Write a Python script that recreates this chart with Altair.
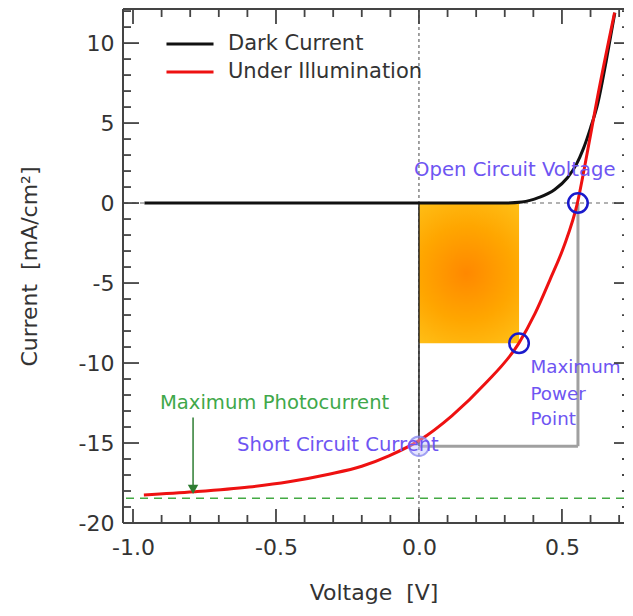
import altair as alt
import pandas as pd

# ---------------- data ----------------
series_names = ["Dark Current", "Under Illumination"]

dark_v = [-0.96, 0.0, 0.30, 0.36, 0.42, 0.475, 0.52, 0.55, 0.575, 0.60, 0.625, 0.655, 0.685]
dark_j = [0.0, 0.0, 0.0, 0.06, 0.35, 0.85, 1.6, 2.4, 3.4, 4.7, 6.2, 8.9, 11.9]

light_v = [-0.962, -0.787, -0.594, -0.455, -0.315, -0.2, -0.105, 0.0, 0.115, 0.231, 0.349,
           0.406, 0.458, 0.507, 0.554, 0.587, 0.622, 0.684]
light_j = [-18.25, -18.05, -17.75, -17.42, -16.95, -16.45, -15.8, -14.85, -13.3, -11.3, -8.77,
           -6.9, -4.8, -2.7, 0.0, 3.0, 6.4, 11.9]

v_oc = 0.556          # open circuit voltage
j_sc = -15.2          # short circuit current
v_mp = 0.35           # maximum power point
j_mp = -8.77
j_ph = -18.45         # maximum photocurrent level
arrow_v = -0.79
arrow_top = -13.4
arrow_head = -17.9

x_major = [-1.0, -0.5, 0.0, 0.5]
x_minor = [-0.9, -0.8, -0.7, -0.6, -0.4, -0.3, -0.2, -0.1, 0.1, 0.2, 0.3, 0.4, 0.6, 0.7]
y_major = [-20, -15, -10, -5, 0, 5, 10]
y_minor = [-19, -18, -17, -16, -14, -13, -12, -11, -9, -8, -7, -6, -4, -3, -2, -1,
           1, 2, 3, 4, 6, 7, 8, 9, 11, 12]

blue_labels = ["Open Circuit Voltage", "Short Circuit Current"]
blue_label_v = [-0.017, -0.636]
blue_label_j = [2.06, -15.1]
mpp_labels = ["Maximum", "Power", "Point"]
mpp_label_v = [0.39, 0.39, 0.39]
mpp_label_j = [-10.3, -12.0, -13.56]
green_labels = ["Maximum Photocurrent"]
green_label_v = [-0.906]
green_label_j = [-12.52]

# ---------------- layout / style ----------------
W, H = 501, 514
XDOM = [-1.035, 0.717]
YDOM = [-20, 12.13]
FONT = "DejaVu Sans"
TXT = "#333333"
MINUS_FIX = "replace(datum.label, '\u2212', '-')"
ANN = 19.6
BLUE_TXT = "#6e55f2"

xs = alt.Scale(domain=XDOM, nice=False, zero=False)
ys = alt.Scale(domain=YDOM, nice=False, zero=False)

curves = pd.concat([
    pd.DataFrame({"series": series_names[0], "v": dark_v, "j": dark_j}),
    pd.DataFrame({"series": series_names[1], "v": light_v, "j": light_j}),
], ignore_index=True)

x_axis = alt.Axis(values=x_major, format=".1f", labelExpr=MINUS_FIX, ticks=False, tickSize=0,
                  domain=False, grid=False, labelFont=FONT, labelFontSize=22, labelColor=TXT,
                  labelPadding=14, labelFlush=False, title="Voltage\u00a0 [V]", titleFont=FONT,
                  titleFontSize=22, titleFontWeight="normal", titleColor=TXT, titlePadding=24)
y_axis = alt.Axis(values=y_major, format="d", labelExpr=MINUS_FIX, ticks=False, tickSize=0,
                  domain=False, grid=False, labelFont=FONT, labelFontSize=22, labelColor=TXT,
                  labelPadding=9, labelFlush=False, title="Current\u00a0 [mA/cm\u00b2]",
                  titleFont=FONT, titleFontSize=22, titleFontWeight="normal", titleColor=TXT,
                  titlePadding=37)

def X(f="v"):
    return alt.X(f"{f}:Q", scale=xs, axis=x_axis)

def Y(f="j"):
    return alt.Y(f"{f}:Q", scale=ys, axis=y_axis)

# dashed reference lines
vzero = alt.Chart(pd.DataFrame({"v": [0.0]})).mark_rule(
    color="#444444", strokeWidth=1, strokeDash=[3, 3]).encode(x=X())
hzero = alt.Chart(pd.DataFrame({"j": [0.0]})).mark_rule(
    color="#999999", strokeWidth=1.5, strokeDash=[4, 4]).encode(y=Y())
hph = alt.Chart(pd.DataFrame({"j": [j_ph]})).mark_rule(
    color="#44aa44", strokeWidth=1.5, strokeDash=[8, 6]).encode(y=Y())

# max power rectangle with radial gradient
grad = alt.RadialGradient(
    gradient="radial",
    stops=[alt.GradientStop(color="#ff8800", offset=0),
           alt.GradientStop(color="#ffa600", offset=0.45),
           alt.GradientStop(color="#ffcc22", offset=1)],
    x1=0.48, y1=0.5, r1=0, x2=0.48, y2=0.5, r2=0.75)
power_rect = alt.Chart(pd.DataFrame({"v": [0.0], "v2": [v_mp], "j": [0.0], "j2": [j_mp]})).mark_rect(
    fill=grad).encode(x=X(), x2="v2:Q", y=Y(), y2="j2:Q")

# Voc x Isc rectangle (grey) and solid black edge at V=0
grey_box = alt.Chart(pd.DataFrame({"v": [0.0, v_oc], "v2": [v_oc, v_oc],
                                   "j": [j_sc, j_sc], "j2": [j_sc, 0.0]})).mark_rule(
    color="#a0a0a0", strokeWidth=3).encode(x=X(), x2="v2:Q", y=Y(), y2="j2:Q")
black_edge = alt.Chart(pd.DataFrame({"v": [0.0], "j": [0.0], "j2": [j_sc]})).mark_rule(
    color="#222222", strokeWidth=1.5).encode(x=X(), y=Y(), y2="j2:Q")

# curves
lines = alt.Chart(curves).mark_line(strokeWidth=3, interpolate="monotone").encode(
    x=X(), y=Y(),
    color=alt.Color("series:N",
                    scale=alt.Scale(domain=series_names, range=["#111111", "#ee1111"]),
                    legend=alt.Legend(title=None, orient="none", legendX=56, legendY=24,
                                      symbolType="M-2.5,0L2.5,0", symbolSize=354,
                                      symbolStrokeWidth=3, labelFont=FONT, labelFontSize=21,
                                      labelColor=TXT, labelOffset=27, labelLimit=400,
                                      rowPadding=7, padding=0)),
    order=alt.Order("v:Q"),
)

# markers
pts = alt.Chart(pd.DataFrame({"v": [v_oc, v_mp], "j": [0.0, j_mp]})).mark_point(
    shape="circle", filled=False, size=380, strokeWidth=2.5, color="#1a1acc", opacity=1).encode(
    x=X(), y=Y())
sc_pt = alt.Chart(pd.DataFrame({"v": [0.0], "j": [j_sc]})).mark_point(
    shape="circle", size=380, strokeWidth=2, stroke="#8a8af0", fill="#c4c4ff",
    fillOpacity=0.45, strokeOpacity=0.8).encode(x=X(), y=Y())

# arrow to max photocurrent
arrow = alt.Chart(pd.DataFrame({"v": [arrow_v], "j": [arrow_top], "j2": [arrow_head]})).mark_rule(
    color="#2e7d32", strokeWidth=1.5).encode(x=X(), y=Y(), y2="j2:Q")
arrow_tip = alt.Chart(pd.DataFrame({"v": [arrow_v], "j": [arrow_head]})).mark_point(
    shape="triangle-down", size=110, filled=True, color="#2e7d32", opacity=1).encode(x=X(), y=Y())

# labels
blue_txt = alt.Chart(pd.DataFrame({"t": blue_labels, "v": blue_label_v, "j": blue_label_j})).mark_text(
    align="left", baseline="middle", font=FONT, fontSize=ANN, color=BLUE_TXT).encode(
    x=X(), y=Y(), text="t:N")
mpp_txt = alt.Chart(pd.DataFrame({"t": mpp_labels, "v": mpp_label_v, "j": mpp_label_j})).mark_text(
    align="left", baseline="middle", font=FONT, fontSize=18.3, color=BLUE_TXT).encode(
    x=X(), y=Y(), text="t:N")
green_txt = alt.Chart(pd.DataFrame({"t": green_labels, "v": green_label_v, "j": green_label_j})).mark_text(
    align="left", baseline="middle", font=FONT, fontSize=ANN, color="#3fa84a").encode(
    x=X(), y=Y(), text="t:N")

# ticks (inward) on all four sides
TC, TW = "#444444", 1.8
def vticks(vals, y0, y1):
    return alt.Chart(pd.DataFrame({"v": vals})).mark_rule(color=TC, strokeWidth=TW).encode(
        x=X(), y=alt.value(y0), y2=alt.value(y1))
def hticks(vals, x0, x1):
    return alt.Chart(pd.DataFrame({"j": vals})).mark_rule(color=TC, strokeWidth=TW).encode(
        y=Y(), x=alt.value(x0), x2=alt.value(x1))

ticks = [
    vticks(x_major, H, H - 14), vticks(x_minor, H, H - 8),
    vticks(x_major, 0, 15), vticks(x_minor, 0, 8),
    hticks(y_major, 0, 16), hticks(y_minor, 0, 8),
    hticks(y_major, W, W - 10), hticks(y_minor, W, W - 2),
]

# frame: left, top, bottom (right side is cut off in the original)
FC = "#444444"
frame = [
    alt.Chart().mark_rule(color=FC, strokeWidth=2).encode(x=alt.value(0), y=alt.value(0), y2=alt.value(H)),
    alt.Chart().mark_rule(color=FC, strokeWidth=2).encode(y=alt.value(0), x=alt.value(0), x2=alt.value(W)),
    alt.Chart().mark_rule(color=FC, strokeWidth=2).encode(y=alt.value(H), x=alt.value(0), x2=alt.value(W)),
]

chart = alt.layer(
    vzero, hzero, hph, power_rect, grey_box, black_edge, lines, sc_pt, pts,
    arrow, arrow_tip, blue_txt, mpp_txt, green_txt, *ticks, *frame
).properties(
    width=W, height=H,
    padding={"left": 115, "top": 1, "right": 1, "bottom": 84},
    autosize=alt.AutoSizeParams(type="none"),
).configure_view(stroke=None)

chart.save("out.html", embed_options={"renderer": "svg", "actions": False})
